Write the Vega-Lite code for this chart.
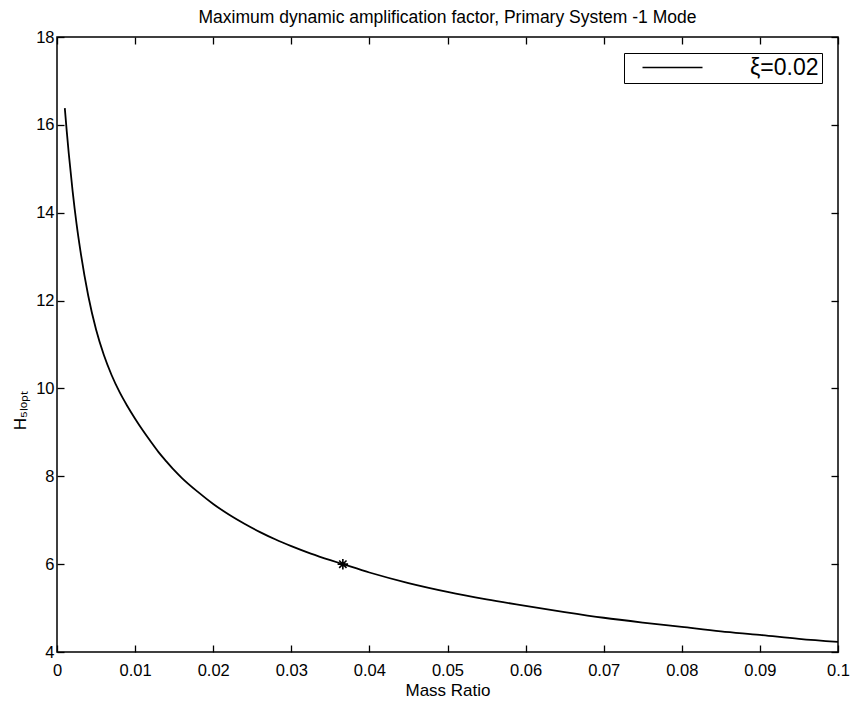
{
  "$schema": "https://vega.github.io/schema/vega-lite/v6.json",
  "width": 781,
  "height": 615,
  "autosize": "none",
  "padding": {"left": 57, "top": 37, "right": 15, "bottom": 50},
  "background": "white",
  "title": {"text": "Maximum dynamic amplification factor, Primary System -1 Mode", "fontSize": 17.5, "font": "Liberation Sans", "fontWeight": "normal", "color": "black", "offset": 3, "anchor": "middle"},
  "config": {
    "view": {"stroke": "black", "strokeWidth": 1.5},
    "axis": {"domain": false, "grid": false, "tickColor": "black", "tickSize": -7, "tickWidth": 1.3, "labelColor": "black", "labelFont": "Liberation Sans", "labelFontSize": 16.5, "titleColor": "black", "titleFont": "Liberation Sans", "titleFontWeight": "normal", "titleFontSize": 17}
  },
  "datasets": {
    "curve": [
      {"mu": 0.001, "H": 16.38},
      {"mu": 0.00125, "H": 15.85},
      {"mu": 0.0015, "H": 15.36},
      {"mu": 0.002, "H": 14.49},
      {"mu": 0.0025, "H": 13.75},
      {"mu": 0.003, "H": 13.13},
      {"mu": 0.004, "H": 12.11},
      {"mu": 0.005, "H": 11.34},
      {"mu": 0.006, "H": 10.76},
      {"mu": 0.007, "H": 10.3},
      {"mu": 0.008, "H": 9.92},
      {"mu": 0.009, "H": 9.6},
      {"mu": 0.01, "H": 9.31},
      {"mu": 0.011, "H": 9.04},
      {"mu": 0.012, "H": 8.79},
      {"mu": 0.013, "H": 8.55},
      {"mu": 0.014, "H": 8.34},
      {"mu": 0.015, "H": 8.14},
      {"mu": 0.016, "H": 7.96},
      {"mu": 0.018, "H": 7.65},
      {"mu": 0.02, "H": 7.37},
      {"mu": 0.022, "H": 7.13},
      {"mu": 0.024, "H": 6.92},
      {"mu": 0.026, "H": 6.73},
      {"mu": 0.028, "H": 6.56},
      {"mu": 0.03, "H": 6.41},
      {"mu": 0.0325, "H": 6.24},
      {"mu": 0.035, "H": 6.09},
      {"mu": 0.0366, "H": 6.0},
      {"mu": 0.04, "H": 5.81},
      {"mu": 0.045, "H": 5.57},
      {"mu": 0.05, "H": 5.37},
      {"mu": 0.055, "H": 5.2},
      {"mu": 0.06, "H": 5.05},
      {"mu": 0.065, "H": 4.91},
      {"mu": 0.07, "H": 4.78},
      {"mu": 0.075, "H": 4.67},
      {"mu": 0.08, "H": 4.57},
      {"mu": 0.085, "H": 4.47},
      {"mu": 0.09, "H": 4.39},
      {"mu": 0.095, "H": 4.3},
      {"mu": 0.1, "H": 4.23}
    ],
    "opt": [{"mu": 0.0366, "H": 6.0}]
  },
  "layer": [
    {
      "data": {"name": "curve"},
      "mark": {"type": "line", "strokeWidth": 1.8, "clip": true, "interpolate": "monotone"},
      "encoding": {
        "x": {"field": "mu", "type": "quantitative", "scale": {"domain": [0, 0.1], "nice": false, "zero": false},
              "axis": {"orient": "bottom", "title": "Mass Ratio", "values": [0, 0.01, 0.02, 0.03, 0.04, 0.05, 0.06, 0.07, 0.08, 0.09, 0.1], "format": "~g", "labelPadding": 17, "titlePadding": 4, "labelFlush": false}},
        "y": {"field": "H", "type": "quantitative", "scale": {"domain": [4, 18], "nice": false, "zero": false},
              "axis": {"orient": "left", "title": "H₅ₗₒₚₜ", "titleY": 373, "values": [4, 6, 8, 10, 12, 14, 16, 18], "labelPadding": 10, "titlePadding": 6, "labelFlush": false}},
        "color": {"datum": "ξ=0.02", "type": "nominal", "scale": {"range": ["black"]},
                  "legend": {"title": null, "orient": "none", "legendX": 567, "legendY": 16, "strokeColor": "black", "fillColor": "white", "padding": 3, "symbolType": "M-10,0L10,0", "symbolSize": 36, "symbolStrokeWidth": 1.5, "symbolStrokeColor": "black", "symbolOffset": 34, "labelOffset": 66, "labelFontSize": 23, "labelFont": "Liberation Sans", "labelColor": "black"}}
      }
    },
    {
      "data": {"name": "curve"},
      "mark": {"type": "line", "opacity": 0},
      "encoding": {
        "x": {"field": "mu", "type": "quantitative", "axis": {"orient": "top", "title": null, "labels": false, "values": [0, 0.01, 0.02, 0.03, 0.04, 0.05, 0.06, 0.07, 0.08, 0.09, 0.1]}},
        "y": {"field": "H", "type": "quantitative", "axis": {"orient": "right", "title": null, "labels": false, "values": [4, 6, 8, 10, 12, 14, 16, 18]}}
      }
    },
    {
      "data": {"name": "opt"},
      "mark": {"type": "point", "shape": "M-1,0L1,0M0,-1L0,1M-0.7,-0.7L0.7,0.7M-0.7,0.7L0.7,-0.7", "filled": false, "color": "black", "strokeWidth": 1.6, "size": 110, "opacity": 1},
      "encoding": {
        "x": {"field": "mu", "type": "quantitative", "axis": null},
        "y": {"field": "H", "type": "quantitative", "axis": null}
      }
    }
  ],
  "resolve": {"axis": {"x": "independent", "y": "independent"}}
}
